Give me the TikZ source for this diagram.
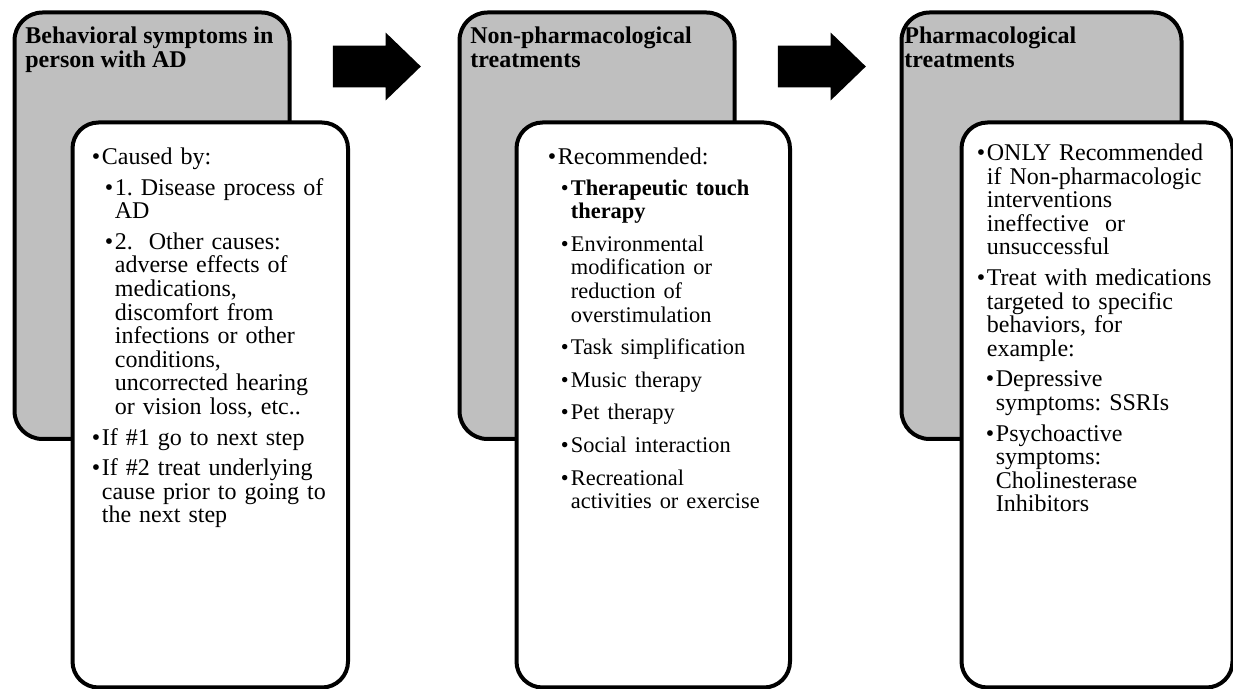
\documentclass[tikz,border=0pt]{standalone}
\usepackage{fontspec}
\setmainfont{Liberation Serif}
\usepackage{enumitem}
\usepackage{tikz}
\usetikzlibrary{positioning}
\usetikzlibrary{shapes.arrows}
\definecolor{boxgray}{RGB}{191,191,191}
\frenchspacing
\setlist[itemize]{label=\textbullet, leftmargin=5pt, labelwidth=4.2pt, labelsep=0.8pt,
  align=left, itemsep=3.5pt, parsep=0pt, topsep=3.5pt, partopsep=0pt}
\setlist[itemize,2]{leftmargin=6.5pt}
\tikzset{
    bigbox/.style = {
      draw,
      line width=2pt,
      rounded corners=14pt,
      rectangle,
      fill=boxgray,
      inner sep=0pt,
      anchor=north west,
      minimum height=213.25pt
    },
    box/.style = {
      draw,
      line width=2pt,
      rounded corners=13pt,
      rectangle,
      fill=white,
      inner sep=0pt,
      anchor=north west,
      minimum height=282.5pt
    },
    headtext/.style = {anchor=north west, inner sep=0pt, align=left,
      font=\fontsize{12}{11.8}\selectfont\bfseries},
    itemtext/.style = {anchor=north west, inner sep=0pt, text width=130pt, align=left,
      font=\fontsize{12}{11.8}\selectfont},
    bigarrow/.style = {single arrow, fill=black, inner xsep=0pt, inner ysep=10.25pt,
      minimum height=44pt,
      single arrow head extend=6.5pt, single arrow tip angle=88,
      single arrow head indent=0pt},
}

\begin{document}
\begin{tikzpicture}[x=0.5pt, y=-0.5pt]
  \useasboundingbox (0,0) rectangle (1233,689);

  \node [bigbox, minimum width=137.5pt] (symptoms) at (12.5,10.5) {};
  \node [bigbox, minimum width=137.5pt] (nonpharm) at (457.5,10.5) {};
  \node [bigbox, minimum width=140pt] (pharm) at (899.5,10.5) {};

  \node [box, minimum width=137.75pt] (symptomsdetail) at (70.5,120.5) {};
  \node [box, minimum width=136.75pt] (nonpharmdetail) at (514.5,120.5) {};
  \node [box, minimum width=135.5pt] (pharmdetail) at (959.5,120.5) {};

  \node [headtext] (symptomstitle) at ([xshift=6.25pt, yshift=-8pt] symptoms.north west)
        {Behavioral symptoms in\\person with AD};
  \node [headtext] (nonpharmtitle) at ([xshift=6.25pt, yshift=-8pt] nonpharm.north west)
        {Non-pharmacological\\treatments};
  \node [headtext] (pharmtitle) at ([xshift=2.25pt, yshift=-8pt] pharm.north west)
        {Pharmacological\\treatments};

  \node [itemtext] (symptomsitems) at ([xshift=10.5pt, yshift=-6.5pt] symptomsdetail.north west) {
    \begin{itemize}
      \item Caused by:
      \begin{itemize}
        \item 1. Disease process of\\AD
        \item 2.\ \ Other causes:\\adverse effects of\\medications,\\discomfort from\\infections or other\\conditions,\\uncorrected hearing\\or vision loss, etc..
      \end{itemize}
      \item If \#1 go to next step
      \item If \#2 treat underlying\\cause prior to going to\\the next step
    \end{itemize}};
  \node [itemtext] (nonpharmitems) at ([xshift=16.5pt, yshift=-6.5pt] nonpharmdetail.north west) {
    \begin{itemize}
      \item Recommended:
      \begin{itemize}[before=\fontsize{11.2}{11.8}\selectfont, itemsep=4.5pt]
        \item \textbf{Therapeutic touch\\therapy}
        \item Environmental\\modification or\\reduction of\\overstimulation
        \item Task simplification
        \item Music therapy
        \item Pet therapy
        \item Social interaction
        \item Recreational\\activities or exercise
      \end{itemize}
    \end{itemize}};
  \node [itemtext] (pharmitems) at ([xshift=8.5pt, yshift=-4.5pt] pharmdetail.north west) {
    \begin{itemize}
      \item ONLY Recommended\\if Non-pharmacologic\\interventions\\ineffective\ \ or\\unsuccessful
      \item Treat with medications\\targeted to specific\\behaviors, for\\example:
      \begin{itemize}[leftmargin=4.5pt]
        \item Depressive\\symptoms: SSRIs
        \item Psychoactive\\symptoms:\\Cholinesterase\\Inhibitors
      \end{itemize}
    \end{itemize}};

  \node [bigarrow] (step1) at (366,66.5) {};
  \node [bigarrow] (step2) at (811,66.5) {};
\end{tikzpicture}
\end{document}
